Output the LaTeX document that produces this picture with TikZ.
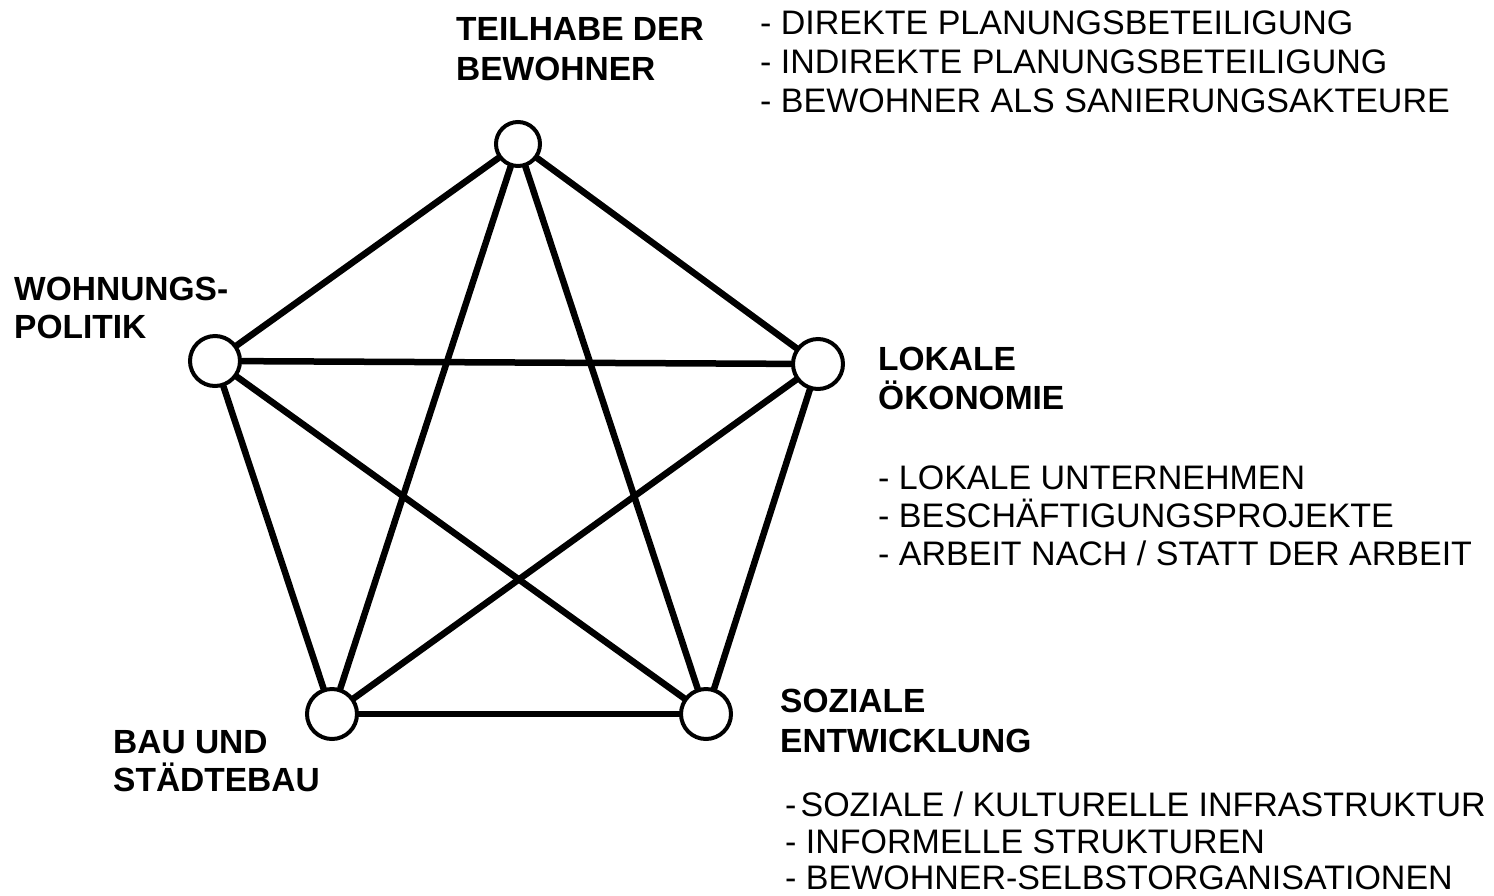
\documentclass[tikz,border=0pt]{standalone}
\usepackage{fontspec}
\setmainfont{Liberation Sans}
\begin{document}
\begin{tikzpicture}[x=1pt,y=-1pt,
  hub/.style={circle,draw,line width=4pt,fill=white,minimum size=50pt,inner sep=0pt},
  link/.style={line width=6.5pt,line cap=round},
  title/.style={anchor=base west,inner sep=0pt,font=\fontsize{33.5}{38}\selectfont\bfseries},
  item/.style={anchor=base west,inner sep=0pt,font=\fontsize{34}{38}\selectfont}]
\useasboundingbox (0,0) rectangle (1494,895);

% the five fields of action
\node[hub,minimum size=44pt] (top) at (518,144) {};
\node[hub] (left)  at (215,361) {};
\node[hub] (right) at (818,364) {};
\node[hub] (bl)    at (332,714) {};
\node[hub] (br)    at (706,714) {};

% every field is linked with every other one
\draw[link] (top) -- (left);
\draw[link] (top) -- (right);
\draw[link] (top) -- (bl);
\draw[link] (top) -- (br);
\draw[link] (left) -- (right);
\draw[link] (left) -- (bl);
\draw[link] (left) -- (br);
\draw[link] (right) -- (bl);
\draw[link] (right) -- (br);
\draw[link] (bl) -- (br);

% field titles
\node[title] (t1a) at (456,40)  {TEILHABE DER};
\node[title] (t1b) at (456,80)  {BEWOHNER};
\node[title] (t2a) at (14,300)  {WOHNUNGS-};
\node[title] (t2b) at (14,338)  {POLITIK};
\node[title] (t3a) at (878,370) {LOKALE};
\node[title] (t3b) at (878,409) {ÖKONOMIE};
\node[title] (t4a) at (780,712) {SOZIALE};
\node[title] (t4b) at (780,752) {ENTWICKLUNG};
\node[title] (t5a) at (113,753) {BAU UND};
\node[title] (t5b) at (113,791) {STÄDTEBAU};

% measures per field
\node[item] (i1a) at (760,34)  {- DIREKTE PLANUNGSBETEILIGUNG};
\node[item] (i1b) at (760,73)  {- INDIREKTE PLANUNGSBETEILIGUNG};
\node[item] (i1c) at (760,112) {- BEWOHNER ALS SANIERUNGSAKTEURE};
\node[item] (i3a) at (878,489) {- LOKALE UNTERNEHMEN};
\node[item] (i3b) at (878,527) {- BESCHÄFTIGUNGSPROJEKTE};
\node[item] (i3c) at (878,565) {- ARBEIT NACH / STATT DER ARBEIT};
\node[item] (i4a) at (785,816) {-\hspace{0.12em}SOZIALE / KULTURELLE INFRASTRUKTUR};
\node[item] (i4b) at (785,853) {- INFORMELLE STRUKTUREN};
\node[item] (i4c) at (785,889) {- BEWOHNER-SELBSTORGANISATIONEN};
\end{tikzpicture}
\end{document}
